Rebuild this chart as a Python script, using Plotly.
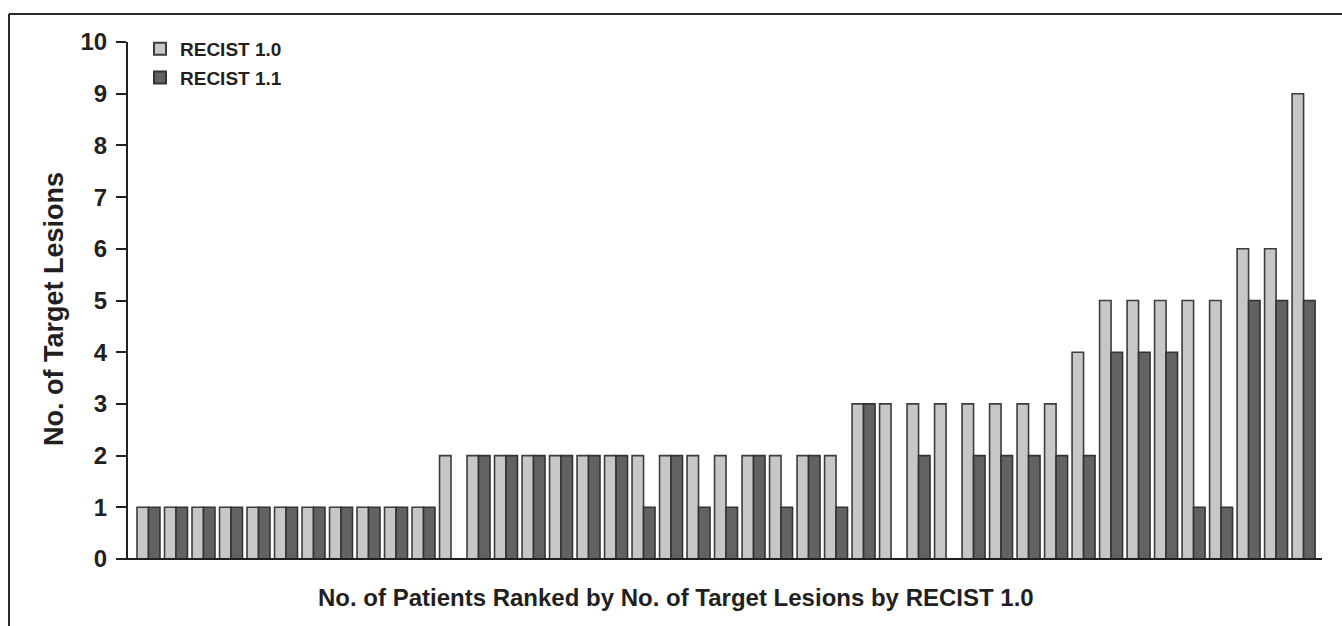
import plotly.graph_objects as go

# Target lesion counts per patient, ranked by RECIST 1.0 count
patients = list(range(1, 44))
recist_10 = [1] * 11 + [2] * 15 + [3] * 8 + [4, 5, 5, 5, 5, 5, 6, 6, 9]
recist_11 = ([1] * 11 + [0, 2, 2, 2, 2, 2, 2, 1, 2, 1, 1, 2, 1, 2, 1]
             + [3, 0, 2, 0, 2, 2, 2, 2, 2, 4, 4, 4, 1, 1, 5, 5, 5])
series_names = ["RECIST 1.0", "RECIST 1.1"]
y_ticks = list(range(0, 11))

W, H = 1342, 626
L, R, T, B = 128, 1322, 42, 559  # plot area in pixels
FONT = "Arial, Liberation Sans, Helvetica, sans-serif"
INK = "#231f20"


def px(x):
    return (x - L) / (R - L)


def py(y):
    return (B - y) / (B - T)


fig = go.Figure()
fig.add_bar(x=patients, y=recist_10, name=series_names[0], legendgroup="a",
            marker=dict(color="#c6c7c9", line=dict(color="#3d3d3f", width=1.6)))
fig.add_bar(x=patients, y=recist_11, name=series_names[1], legendgroup="b",
            marker=dict(color="#616264", line=dict(color="#333335", width=1.6)))

shapes = [
    # outer frame (top and left edges)
    dict(type="line", xref="paper", yref="paper", x0=px(9), x1=px(W + 5),
         y0=py(14), y1=py(14), line=dict(color="#2a2a2a", width=2)),
    dict(type="line", xref="paper", yref="paper", x0=px(9), x1=px(9),
         y0=py(14), y1=py(H + 5), line=dict(color="#2a2a2a", width=2)),
    # x baseline, extending to the left under the y ticks
    dict(type="line", xref="paper", yref="paper", x0=px(117), x1=1,
         y0=0, y1=0, line=dict(color=INK, width=2.2)),
]

annotations = [
    dict(text="No. of Target Lesions", xref="paper", yref="paper",
         x=px(54), y=py(309), textangle=-90, showarrow=False,
         xanchor="center", yanchor="middle",
         font=dict(family=FONT, size=27, color=INK, weight="bold")),
    dict(text="No. of Patients Ranked by No. of Target Lesions by RECIST 1.0",
         xref="paper", yref="paper", x=px(676), y=py(597), showarrow=False,
         xanchor="center", yanchor="middle",
         font=dict(family=FONT, size=24, color=INK, weight="bold")),
]

fig.update_layout(
    width=W, height=H,
    margin=dict(l=L, r=W - R, t=T, b=H - B, pad=0),
    paper_bgcolor="white", plot_bgcolor="white",
    barmode="group", bargap=0.165, bargroupgap=0.0,
    showlegend=True,
    legend=dict(x=px(140), y=py(30), xanchor="left", yanchor="top",
                bgcolor="rgba(0,0,0,0)", borderwidth=0,
                traceorder="grouped", tracegroupgap=1,
                font=dict(family=FONT, size=19, color=INK, weight="bold"),
                itemsizing="constant"),
    shapes=shapes,
    annotations=annotations,
)

fig.update_xaxes(range=[0.255, 43.67], showline=False, showgrid=False,
                 zeroline=False, showticklabels=False, ticks="")
fig.update_yaxes(range=[0, 10], tickvals=y_ticks,
                 showline=True, linecolor=INK, linewidth=2.2,
                 ticks="outside", ticklen=10, tickwidth=2.2, tickcolor=INK,
                 ticklabelstandoff=4,
                 showgrid=False, zeroline=False,
                 tickfont=dict(family=FONT, size=24, color=INK, weight="bold"))

fig.write_html("out.html")
